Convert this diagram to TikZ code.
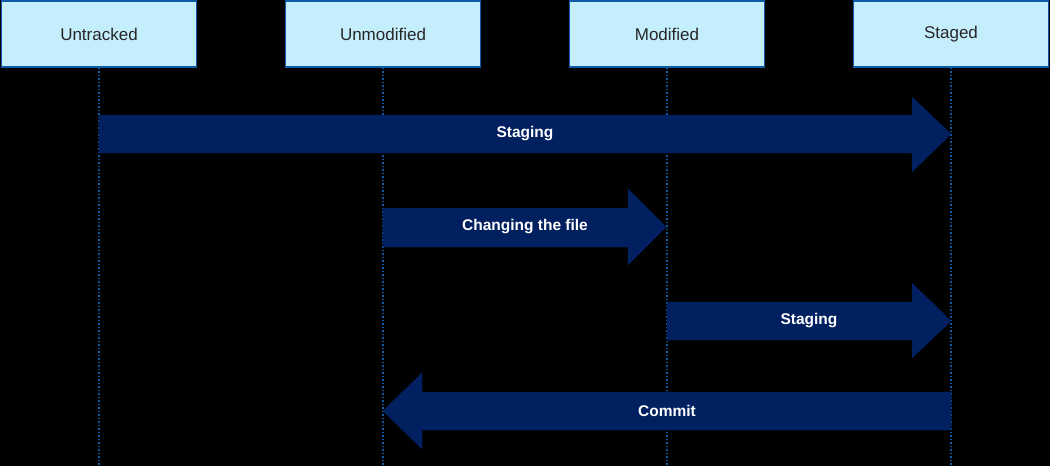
\documentclass[tikz,border=0pt]{standalone}
\usepackage{fontspec}
\setmainfont{Liberation Sans}
\definecolor{boxfill}{HTML}{C5EEFD}
\definecolor{boxline}{HTML}{0F5AA6}
\definecolor{arrfill}{HTML}{002060}
\definecolor{txt}{HTML}{262626}
\begin{document}
\begin{tikzpicture}[x=1pt,y=-1pt,
  state/.style={draw=boxline,line width=1.5pt,fill=boxfill,minimum width=195pt,minimum height=66pt,inner sep=0pt,font=\fontsize{17}{20}\selectfont,text=txt},
  life/.style={draw=boxline,line width=1.5pt,dotted},
  bigarrow/.style={fill=arrfill,draw=arrfill},
  lbl/.style={text=white,font=\bfseries\fontsize{15.5}{18}\selectfont}]
\fill[black] (0,0) rectangle (1050,466);
\node[state] (u) at (99,34) {Untracked};
\node[state] (un) at (383,34) {Unmodified};
\node[state] (m) at (667,34) {Modified};
\node[state] (s) at (951,34) {Staged};
\foreach \n/\x in {u/99,un/383,m/667,s/951}{
  \coordinate (\n-end) at (\x,466);
  \draw[life] (\n.south) -- (\n-end);
}
% Staging 1
\draw[bigarrow] (99,115) -- (912,115) -- (912,97) -- (951,134) -- (912,172) -- (912,153) -- (99,153) -- cycle;
\node[lbl] (l1) at (525,134) {Staging};
% Changing
\draw[bigarrow] (383,208) -- (628,208) -- (628,189) -- (666,227) -- (628,265) -- (628,247) -- (383,247) -- cycle;
\node[lbl] (l2) at (525,227) {Changing the file};
% Staging 2
\draw[bigarrow] (667,302) -- (912,302) -- (912,283) -- (951,321) -- (912,358) -- (912,340) -- (667,340) -- cycle;
\node[lbl] (l3) at (809,321) {Staging};
% Commit
\draw[bigarrow] (951,392) -- (422,392) -- (422,373) -- (383,411) -- (422,449) -- (422,430) -- (951,430) -- cycle;
\node[lbl] (l4) at (667,411) {Commit};
\end{tikzpicture}
\end{document}
